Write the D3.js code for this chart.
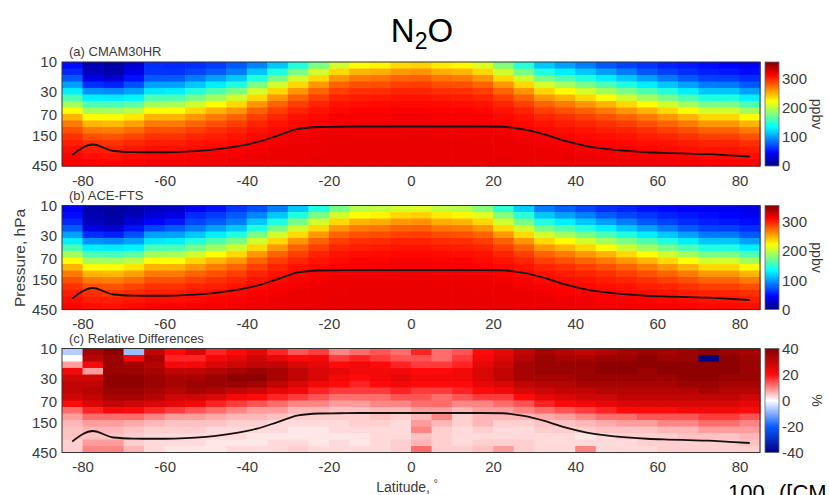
<!DOCTYPE html>
<html>
<head>
<meta charset="utf-8">
<script src="https://cdn.jsdelivr.net/npm/d3@7"></script>
<style>
  body { margin: 0; background: #fff; }
  text { font-family: "Liberation Sans", Arial, sans-serif; fill: #3a3a3a; }
</style>
</head>
<body>
<svg width="829" height="495"></svg>
<script>
(function (d3) {
  'use strict';

  // latitude bin centres (5 degree bins)
  const latCenters = [-82.5, -77.5, -72.5, -67.5, -62.5, -57.5, -52.5, -47.5, -42.5, -37.5,
    -32.5, -27.5, -22.5, -17.5, -12.5, -7.5, -2.5, 2.5, 7.5, 12.5, 17.5, 22.5, 27.5, 32.5,
    37.5, 42.5, 47.5, 52.5, 57.5, 62.5, 67.5, 72.5, 77.5, 82.5];

  // pressure level bounds, hPa (top -> bottom)
  const pressureEdges = [10, 12.7, 16.1, 20.4, 25.9, 32.8, 41.6, 52.8, 67, 85, 108, 137, 174, 220, 280, 355, 450];

  // tropopause pressure, hPa
  const tropopause = [300, 205, 260, 270, 272, 270, 262, 245, 220, 188, 148, 116, 108, 107, 106, 106, 106,
    106, 106, 106, 106, 107, 118, 142, 180, 215, 240, 258, 272, 280, 286, 292, 305, 318];

  // N2O, ppbv : one profile per latitude bin, top -> bottom
  const cmam = [
    [48,58,75,100,128,160,190,222,248,268,283,294,301,306,310,313],
    [18,22,35,60,95,128,160,190,222,248,268,283,294,301,306,310],
    [12,16,28,55,92,126,158,190,220,246,266,282,293,300,305,309],
    [28,35,50,72,100,130,165,198,230,255,273,287,297,303,308,311],
    [60,62,75,100,125,160,190,222,248,268,283,294,301,306,310,313],
    [58,62,76,100,128,160,192,222,248,268,283,294,301,306,310,313],
    [60,68,88,114,144,175,206,235,258,276,289,298,304,308,312,314],
    [65,76,100,128,160,190,222,248,268,283,294,301,306,310,313,315],
    [75,88,114,144,175,206,235,258,276,289,298,304,308,312,314,316],
    [90,114,144,175,206,235,258,276,289,298,304,308,312,314,316,317],
    [114,144,175,206,235,258,276,289,298,304,308,312,314,316,317,317],
    [144,175,206,235,258,276,289,298,304,308,312,314,316,317,317,318],
    [175,206,235,258,276,289,298,304,308,312,314,316,317,317,318,318],
    [206,235,258,276,289,298,304,308,312,314,316,317,317,318,318,318],
    [222,248,268,283,294,301,306,310,313,315,317,317,318,318,318,318],
    [225,250,270,284,295,302,307,310,313,315,316,317,318,318,318,318],
    [235,258,276,289,298,304,308,312,314,316,317,317,318,318,318,318],
    [238,260,277,290,298,304,308,312,314,316,317,318,318,318,318,318],
    [228,250,270,284,295,302,307,310,313,315,316,317,318,318,318,318],
    [224,248,268,283,294,301,306,310,313,315,316,317,318,318,318,318],
    [210,236,258,276,289,298,304,308,312,314,316,317,317,318,318,318],
    [178,206,235,258,276,289,298,304,308,312,314,316,317,317,318,318],
    [146,175,206,235,258,276,289,298,304,308,312,314,316,317,317,318],
    [114,144,175,206,235,258,276,289,298,304,308,312,314,316,317,317],
    [100,128,160,190,222,248,268,283,294,301,306,310,313,315,317,317],
    [88,114,144,175,206,235,258,276,289,298,304,308,312,314,316,317],
    [75,100,128,160,190,222,248,268,283,294,301,306,310,313,315,317],
    [68,88,114,144,175,206,235,258,276,289,298,304,308,312,314,316],
    [62,75,100,128,160,190,222,248,268,283,294,301,306,310,313,315],
    [56,67,87,114,144,175,206,235,258,276,289,298,304,308,312,314],
    [52,60,75,100,128,160,190,222,248,268,283,294,301,306,310,313],
    [48,55,67,87,114,144,175,206,235,258,276,289,298,304,308,312],
    [45,52,66,86,114,144,175,206,235,258,276,289,298,304,308,312],
    [40,48,60,75,100,128,160,190,222,248,268,283,294,301,306,310]
  ];

  const ace = [
    [40,48,58,75,100,128,160,190,222,248,268,283,294,301,306,310],
    [15,18,22,35,60,95,128,160,190,222,248,268,283,294,301,306],
    [10,12,16,28,55,92,126,158,190,220,246,266,282,293,300,305],
    [15,20,30,50,72,100,130,165,198,230,255,273,287,297,303,308],
    [22,30,45,68,100,125,160,190,222,248,268,283,294,301,306,310],
    [25,35,52,76,100,128,160,192,222,248,268,283,294,301,306,310],
    [40,58,68,88,114,144,175,206,235,258,276,289,298,304,308,312],
    [50,65,76,100,128,160,190,222,248,268,283,294,301,306,310,313],
    [62,75,88,114,144,175,206,235,258,276,289,298,304,308,312,314],
    [72,90,114,144,175,206,235,258,276,289,298,304,308,312,314,316],
    [88,114,144,175,206,235,258,276,289,298,304,308,312,314,316,317],
    [114,144,175,206,235,258,276,289,298,304,308,312,314,316,317,317],
    [144,175,206,235,258,276,289,298,304,308,312,314,316,317,317,318],
    [175,206,235,258,276,289,298,304,308,312,314,316,317,317,318,318],
    [195,222,248,268,283,294,301,306,310,313,315,317,317,318,318,318],
    [200,225,250,270,284,295,302,307,310,313,315,316,317,318,318,318],
    [206,235,258,276,289,298,304,308,312,314,316,317,317,318,318,318],
    [210,238,260,277,290,298,304,308,312,314,316,317,318,318,318,318],
    [200,228,250,270,284,295,302,307,310,313,315,316,317,318,318,318],
    [196,224,248,268,283,294,301,306,310,313,315,316,317,318,318,318],
    [180,210,236,258,276,289,298,304,308,312,314,316,317,317,318,318],
    [148,178,206,235,258,276,289,298,304,308,312,314,316,317,317,318],
    [116,146,175,206,235,258,276,289,298,304,308,312,314,316,317,317],
    [88,114,144,175,206,235,258,276,289,298,304,308,312,314,316,317],
    [78,100,128,160,190,222,248,268,283,294,301,306,310,313,315,317],
    [68,88,114,144,175,206,235,258,276,289,298,304,308,312,314,316],
    [60,75,100,128,160,190,222,248,268,283,294,301,306,310,313,315],
    [55,68,88,114,144,175,206,235,258,276,289,298,304,308,312,314],
    [50,62,75,100,128,160,190,222,248,268,283,294,301,306,310,313],
    [46,56,67,87,114,144,175,206,235,258,276,289,298,304,308,312],
    [42,52,60,75,100,128,160,190,222,248,268,283,294,301,306,310],
    [40,48,55,67,87,114,144,175,206,235,258,276,289,298,304,308],
    [38,45,52,66,86,114,144,175,206,235,258,276,289,298,304,308],
    [35,40,48,60,75,100,128,160,190,222,248,268,283,294,301,306]
  ];

  // relative differences, %
  const relDiff = [
    [-6,0,8,22,28,30,30,28,20,12,8,6,5,5,4,4],
    [34,32,22,8,28,30,32,30,26,18,12,8,6,5,8,10],
    [38,36,36,36,38,38,36,34,30,22,12,8,6,5,8,10],
    [-8,22,34,36,38,38,36,34,28,20,12,7,5,4,4,6],
    [30,34,32,34,36,36,34,32,26,18,10,6,4,3,3,3],
    [20,18,22,30,34,34,32,28,24,16,8,5,4,3,3,2],
    [26,18,22,30,34,36,34,28,22,14,8,5,4,3,3,2],
    [18,22,26,32,36,36,32,26,18,12,7,5,3,3,2,2],
    [20,24,28,34,38,36,30,22,16,10,6,4,3,3,2,3],
    [24,28,30,36,38,34,28,20,14,8,6,4,3,2,2,3],
    [18,24,30,34,34,30,24,18,12,8,5,3,3,2,3,3],
    [14,20,26,30,30,26,22,16,10,6,4,3,2,2,3,4],
    [16,22,24,26,26,22,18,14,10,6,4,3,2,2,2,3],
    [10,16,20,24,22,20,16,12,8,5,4,3,3,2,3,3],
    [12,18,22,22,20,18,16,12,8,5,4,4,3,2,2,3],
    [14,16,20,22,22,20,16,12,10,6,5,4,3,3,3,3],
    [12,14,18,22,24,22,18,14,10,6,4,3,3,3,4,4],
    [18,14,16,20,22,20,16,14,12,8,6,8,10,5,6,12],
    [12,12,16,20,22,20,16,12,12,8,10,6,4,4,4,4],
    [14,16,18,22,22,20,18,14,10,6,4,4,3,3,3,4],
    [20,22,24,26,26,24,20,16,10,8,6,6,4,3,4,5],
    [24,26,28,30,30,26,22,16,12,8,6,4,3,3,4,8],
    [30,32,34,34,34,30,26,20,14,10,6,4,3,3,4,4],
    [34,36,36,36,34,32,28,24,18,12,7,5,4,3,3,3],
    [32,34,36,36,34,32,30,26,20,14,8,5,4,3,3,3],
    [30,34,36,36,36,34,30,28,22,16,10,6,4,2,3,10],
    [32,36,38,38,36,34,32,28,24,18,12,7,5,3,3,3],
    [34,36,38,38,36,34,32,30,26,20,12,8,5,4,3,3],
    [36,38,38,36,36,34,32,30,26,20,14,8,5,4,4,3],
    [34,36,38,38,36,34,32,30,26,20,14,10,6,4,4,4],
    [36,36,38,38,38,36,32,30,26,22,14,10,6,5,4,4],
    [38,-40,38,38,38,36,34,30,26,22,16,12,8,5,4,4],
    [36,38,38,38,36,34,32,30,26,22,16,12,8,5,4,4],
    [34,36,36,36,36,34,32,28,24,20,14,10,8,6,5,4]
  ];

  const latTicks = [-80, -60, -40, -20, 0, 20, 40, 60, 80];
  const pressureTicks = [10, 30, 70, 150, 450];
  const ppbvTicks = [0, 100, 200, 300];
  const pctTicks = [-40, -20, 0, 20, 40];

  const svg = d3.select('svg');

  const left = 62, right = 760, panelH = 104;
  const cbX = 765, cbW = 14;

  const x = d3.scaleLinear().domain([-85, 85]).range([left, right]);

  const jetMax = 355;
  const jet = d3.scaleLinear()
    .domain([0, 0.125, 0.375, 0.625, 0.875, 1].map(f => f * jetMax))
    .range(['#00007f', '#0000ff', '#00ffff', '#ffff00', '#ff0000', '#7f0000'])
    .clamp(true);

  const redBlue = d3.scaleLinear()
    .domain([-40, -20, 0, 20, 40])
    .range(['#000082', '#0a5cff', '#ffffff', '#ff0a0a', '#820000'])
    .clamp(true);

  const panels = [
    { top: 62, data: cmam, label: '(a) CMAM30HR', color: jet, cbDomain: [0, jetMax], cbTicks: ppbvTicks, unit: 'ppbv' },
    { top: 205.5, data: ace, label: '(b) ACE-FTS', color: jet, cbDomain: [0, jetMax], cbTicks: ppbvTicks, unit: 'ppbv' },
    { top: 348.5, data: relDiff, label: '(c) Relative Differences', color: redBlue, cbDomain: [-40, 40], cbTicks: pctTicks, unit: '%' }
  ];

  const defs = svg.append('defs');

  panels.forEach((p, pi) => {
    const y = d3.scaleLog().domain([10, 450]).range([p.top, p.top + panelH]);
    const g = svg.append('g');

    // cells
    latCenters.forEach((lat, i) => {
      const x0 = x(lat - 2.5), x1 = x(lat + 2.5);
      g.selectAll(null).data(p.data[i]).enter().append('rect')
        .attr('x', x0)
        .attr('width', x1 - x0 + 0.6)
        .attr('y', (d, r) => y(pressureEdges[r]))
        .attr('height', (d, r) => y(pressureEdges[r + 1]) - y(pressureEdges[r]) + 0.6)
        .attr('fill', d => p.color(d));
    });

    // tropopause
    const line = d3.line()
      .x((d, i) => x(latCenters[i]))
      .y(d => y(d))
      .curve(d3.curveMonotoneX);
    g.append('path')
      .datum(tropopause)
      .attr('d', line)
      .attr('fill', 'none')
      .attr('stroke', '#151010')
      .attr('stroke-width', 1.8);

    // frame
    g.append('rect')
      .attr('x', left).attr('y', p.top)
      .attr('width', right - left).attr('height', panelH)
      .attr('fill', 'none')
      .attr('stroke', '#333')
      .attr('stroke-width', 1);

    const yAxis = d3.axisLeft(y).tickValues(pressureTicks).tickFormat(d => d).tickSize(0).tickPadding(5);
    const yAxisG = g.append('g').attr('transform', `translate(${left},0)`).call(yAxis);
    yAxisG.select('.domain').remove();
    yAxisG.selectAll('text').attr('font-size', 15).style('font-family', null);

    const xAxis = d3.axisBottom(x).tickValues(latTicks).tickFormat(d => d).tickSize(0).tickPadding(9);
    const xAxisG = g.append('g').attr('transform', `translate(0,${p.top + panelH})`).call(xAxis);
    xAxisG.select('.domain').remove();
    xAxisG.selectAll('text').attr('font-size', 15).style('font-family', null);

    g.append('text')
      .attr('x', 69)
      .attr('y', p.top - 6)
      .attr('font-size', 13)
      .text(p.label);

    // colour bar
    const gradId = 'cb' + pi;
    const grad = defs.append('linearGradient')
      .attr('id', gradId)
      .attr('x1', 0).attr('y1', 1).attr('x2', 0).attr('y2', 0);
    d3.range(0, 1.0001, 0.02).forEach(f => {
      const v = p.cbDomain[0] + f * (p.cbDomain[1] - p.cbDomain[0]);
      grad.append('stop').attr('offset', f).attr('stop-color', p.color(v));
    });
    g.append('rect')
      .attr('x', cbX).attr('y', p.top)
      .attr('width', cbW).attr('height', panelH)
      .attr('fill', `url(#${gradId})`)
      .attr('stroke', '#666')
      .attr('stroke-width', 0.8);

    const cbY = d3.scaleLinear().domain(p.cbDomain).range([p.top + panelH, p.top]);
    g.selectAll(null).data(p.cbTicks).enter().append('text')
      .attr('x', cbX + cbW + 3)
      .attr('y', d => cbY(d))
      .attr('dy', '0.36em')
      .attr('font-size', 15)
      .text(d => d);

    g.append('text')
      .attr('transform', `translate(812,${p.top + panelH / 2}) rotate(90)`)
      .attr('text-anchor', 'middle')
      .attr('font-size', 14)
      .text(p.unit);
  });

  // axis titles
  svg.append('text')
    .attr('transform', 'translate(25,258) rotate(-90)')
    .attr('text-anchor', 'middle')
    .attr('font-size', 15.5)
    .text('Pressure, hPa');

  const latLabel = svg.append('text')
    .attr('x', 407)
    .attr('y', 492)
    .attr('text-anchor', 'middle')
    .attr('font-size', 14);
  latLabel.append('tspan').text('Latitude, ');
  latLabel.append('tspan').attr('dy', -5).attr('font-size', 10).text('°');

  // title
  const title = svg.append('text')
    .attr('x', 422)
    .attr('y', 42)
    .attr('text-anchor', 'middle')
    .attr('font-size', 33)
    .style('fill', '#000');
  title.append('tspan').text('N');
  title.append('tspan').attr('dy', 7).attr('font-size', 23).text('2');
  title.append('tspan').attr('dy', -7).text('O');

  // caption running off the bottom edge
  svg.append('text')
    .attr('x', 728).attr('y', 500)
    .attr('font-size', 22)
    .style('fill', '#000')
    .text('100');
  svg.append('text')
    .attr('x', 779).attr('y', 500)
    .attr('font-size', 22)
    .style('fill', '#000')
    .text('([CMAM30HR \u2212 ACE-FTS]/ACE-FTS)');

}(d3));
</script>
</body>
</html>
